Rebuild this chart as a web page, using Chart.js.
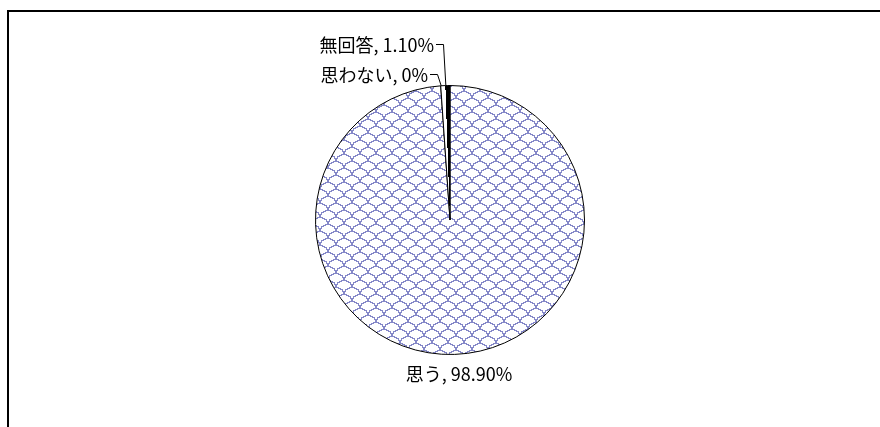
<!DOCTYPE html>
<html lang="ja">
<head>
<meta charset="utf-8">
<title>円グラフ</title>
<script src="https://cdn.jsdelivr.net/npm/chart.js@4/dist/chart.umd.min.js"></script>
<style>
    html, body { margin: 0; padding: 0; background: #fff; }
    #wrap { position: relative; width: 880px; height: 427px; }
</style>
</head>
<body>
<div id="wrap"><canvas id="pieChart" width="880" height="427"></canvas></div>
<script>
// 回答データ
const categories = ['思う', '思わない', '無回答'];
const percentages = [98.9, 0, 1.1];

const labelFont = '18px "Noto Sans CJK JP", "Noto Sans", sans-serif';

// うろこ模様のパターン（半円の弧を半ずらしで 2 段）
function makeScalePattern() {
    const W = 16, H = 14, R = 7;
    const c = document.createElement('canvas');
    c.width = W;
    c.height = H;
    const g = c.getContext('2d');
    g.fillStyle = '#fff';
    g.fillRect(0, 0, W, H);
    g.fillStyle = '#8588c8';
    const dot = (x, y) => g.fillRect(((x % W) + W) % W, ((y % H) + H) % H, 1, 1);
    const yf = t => R - R * Math.sqrt(Math.max(0, 1 - Math.pow((t - W / 2) / (W / 2), 2)));
    for (let x = 0; x < W; x++) {
        const a = yf(x), b = yf(x + 1);
        const y0 = Math.round(Math.min(a, b));
        // 隣の列とつながるよう 1 段ぶん太らせる
        const y1 = Math.max(y0, Math.round(Math.max(a, b)));
        for (let y = y0; y <= Math.min(y1, R - 1); y++) {
            dot(x, y);
            dot(x + W / 2, y + R);
        }
    }
    return g.createPattern(c, 'repeat');
}

const scalePattern = makeScalePattern();

// 無回答スライス：中心線より左は白、右は黒
function noAnswerFill(chart) {
    const area = chart.chartArea;
    if (!area) return '#000';
    const cx = (area.left + area.right) / 2;
    const cy = (area.top + area.bottom) / 2;
    const total = percentages.reduce((s, v) => s + v, 0);
    const before = percentages[0] + percentages[1];
    const start = -Math.PI / 2 + 2 * Math.PI * before / total;
    const end = start + 2 * Math.PI * percentages[2] / total;
    const mid = (start + end) / 2;
    // 中心線に直交する向き
    const nx = Math.cos(mid + Math.PI / 2), ny = Math.sin(mid + Math.PI / 2);
    const grad = chart.ctx.createLinearGradient(cx - nx, cy - ny, cx + nx, cy + ny);
    grad.addColorStop(0, '#fff');
    grad.addColorStop(0.5, '#fff');
    grad.addColorStop(0.5, '#000');
    grad.addColorStop(1, '#000');
    return grad;
}

function sliceFill(context) {
    if (context.dataIndex === 0) return scalePattern;
    if (context.dataIndex === 2) return noAnswerFill(context.chart);
    return '#fff';
}

function fmtPct(v) {
    return v === 0 ? '0%' : v.toFixed(2) + '%';
}

// 枠線
const framePlugin = {
    id: 'frame',
    beforeDraw(chart) {
        const ctx = chart.ctx;
        ctx.save();
        ctx.fillStyle = '#000';
        ctx.fillRect(7, 10, 873, 2);
        ctx.fillRect(7, 10, 2, 417);
        ctx.restore();
    }
};

// ラベルと引き出し線
const labelPlugin = {
    id: 'pieLabels',
    afterDatasetsDraw(chart) {
        const ctx = chart.ctx;
        const arcs = chart.getDatasetMeta(0).data;
        ctx.save();
        ctx.font = labelFont;
        ctx.fillStyle = '#000';
        ctx.strokeStyle = '#000';
        ctx.lineWidth = 1;
        ctx.textBaseline = 'middle';
        // 上側のラベル位置（スライス外周点からのずれ）
        const above = { 1: { dy: -12, hx: -4 }, 2: { dy: -42, hx: -2 } };
        arcs.forEach((arc, i) => {
            const p = arc.getProps(['x', 'y', 'startAngle', 'endAngle', 'outerRadius']);
            const mid = (p.startAngle + p.endAngle) / 2;
            const ex = p.x + Math.cos(mid) * p.outerRadius;
            const ey = p.y + Math.sin(mid) * p.outerRadius;
            const text = categories[i] + ', ' + fmtPct(percentages[i]);
            if (above[i]) {
                const o = above[i];
                const ly = Math.round(ey + o.dy);
                const hx = Math.round(ex + o.hx);
                const tx = hx - 7;
                ctx.beginPath();
                ctx.moveTo(tx, ly + 0.5);
                ctx.lineTo(hx + 0.5, ly + 0.5);
                ctx.lineTo(ex + 0.5, ey);
                ctx.stroke();
                ctx.textAlign = 'right';
                ctx.fillText(text, tx - 2, ly + 1);
            } else {
                ctx.textAlign = 'center';
                ctx.fillText(text, p.x + 9, p.y + p.outerRadius + 20);
            }
        });
        ctx.restore();
    }
};

const ctx = document.getElementById('pieChart').getContext('2d');
const pieChart = new Chart(ctx, {
    type: 'pie',
    data: {
        labels: categories,
        datasets: [{
            data: percentages,
            backgroundColor: sliceFill,
            borderColor: '#000',
            borderWidth: 1
        }]
    },
    options: {
        responsive: false,
        animation: false,
        events: [],
        layout: {
            padding: { left: 315, right: 295, top: 85, bottom: 72 }
        },
        plugins: {
            legend: { display: false },
            tooltip: { enabled: false }
        }
    },
    plugins: [framePlugin, labelPlugin]
});
</script>
</body>
</html>
